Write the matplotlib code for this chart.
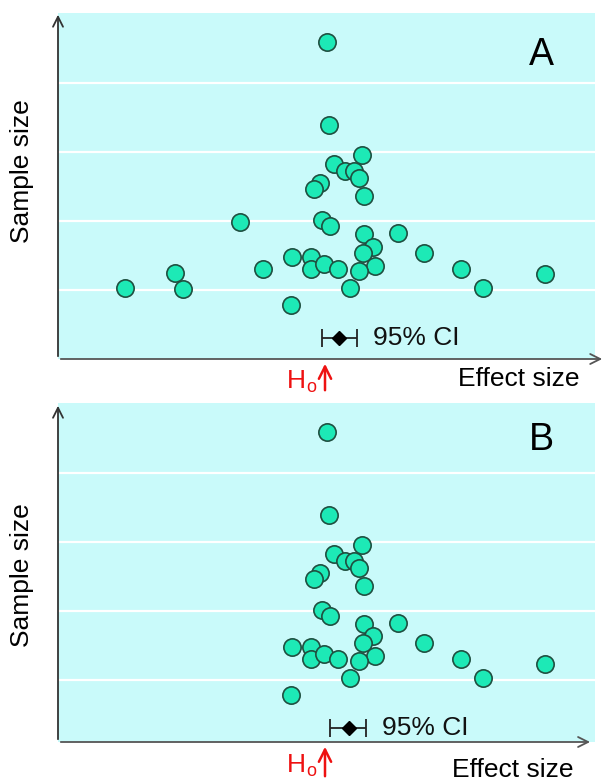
import numpy as np
import matplotlib
matplotlib.use('Agg')
import matplotlib.pyplot as plt

plt.rcParams['font.family'] = ['Liberation Sans', 'DejaVu Sans']

# effect size (H0 at 0) and sample size (grid units) for each study
effect = [0.03, 0.08, 0.73, 0.17, 0.40, 0.57, 0.68, -0.10, -0.23, 0.78,
          -1.70, -0.07, 0.09, 0.77, 1.45, 0.95, 0.75, -0.67, -0.29, 1.00,
          -1.25, -0.29, -0.03, 0.25, 0.67, 0.49, -0.68, -4.01, -3.00, -2.85,
          1.97, 2.71, 3.15, 4.40]
sample = [4.60, 3.39, 2.96, 2.82, 2.73, 2.73, 2.62, 2.55, 2.47, 2.36,
          1.98, 2.01, 1.93, 1.81, 1.83, 1.63, 1.53, 1.48, 1.48, 1.35,
          1.30, 1.30, 1.37, 1.30, 1.28, 1.03, 0.78, 1.03, 1.25, 1.01,
          1.54, 1.30, 1.03, 1.23]
# panel B: the small negative studies are missing
in_b = [e > -1.0 for e in effect]

panels = ['A', 'B']
ci_low = [-0.07, 0.10]
ci_mid = [0.27, 0.47]
ci_high = [0.63, 0.81]
ci_y = [0.30, 0.30]

W, H = 605, 783
fig = plt.figure(figsize=(W / 100, H / 100), dpi=100)

def px_rect(l, t, r, b):
    return [l / W, 1 - b / H, (r - l) / W, (b - t) / H]

def ftext(x, y, s, **kw):
    fig.text(x / W, 1 - y / H, s, **kw)

rects = [px_rect(58, 13, 595, 359), px_rect(58, 403, 595, 742)]
ylims = [(0, 5.014), (0.10, 5.014)]
xarrow_tip = [1.0186, 0.996]
yarrow_tip = [1.003, 1.0]
label_pos = [(0.90, 0.879), (0.901, 0.891)]
# pixel y of x-label centre, H0 baseline, arrow tail/head, ylabel centre
xlabel_y = [379, 770]
h0_y = [388, 772]
arrow_y = [(393, 361), (779, 744)]
ylabel_y = [171, 575]
xlabel_r = [579, 573]

bg = '#c9fafa'
fill = '#1de9b6'
edge = '#1f4f40'

for i, name in enumerate(panels):
    ax = fig.add_axes(rects[i])
    ax.set_facecolor(bg)
    ax.set_xlim(-5.34, 5.4)
    ax.set_ylim(*ylims[i])
    for s in ax.spines.values():
        s.set_visible(False)
    ax.set_xticks([])
    ax.set_yticks([])
    for g in [1, 2, 3, 4]:
        ax.axhline(g, color='white', lw=1.6, zorder=1)

    if i == 0:
        xs, ys = effect, sample
    else:
        xs = [e for e, k in zip(effect, in_b) if k]
        ys = [s for s, k in zip(sample, in_b) if k]
    ax.scatter(xs, ys, s=155, c=fill, edgecolors=edge, linewidths=1.2, zorder=3)

    mid = ci_mid[i]
    ax.errorbar([mid], [ci_y[i]], xerr=[[mid - ci_low[i]], [ci_high[i] - mid]],
                fmt='D', color='black', ecolor='#222222', ms=7, elinewidth=1.3,
                capsize=6.5, capthick=1.3, zorder=4)
    ax.annotate('95% CI', xy=(ci_high[i], ci_y[i]), xytext=(12, 0),
                textcoords='offset points', va='center', ha='left',
                fontsize=19, color='#111111')

    ax.text(*label_pos[i], name, transform=ax.transAxes, fontsize=27,
            ha='center', va='center', color='black')

    # axis arrows
    ax.annotate('', xy=(xarrow_tip[i], 0), xytext=(0, 0), xycoords='axes fraction',
                arrowprops=dict(arrowstyle='->', color='#555555', lw=1.3,
                                mutation_scale=18), annotation_clip=False)
    ax.annotate('', xy=(0, yarrow_tip[i]), xytext=(0, 0), xycoords='axes fraction',
                arrowprops=dict(arrowstyle='->', color='#333333', lw=1.3,
                                mutation_scale=18), annotation_clip=False)

    ftext(xlabel_r[i], xlabel_y[i], 'Effect size', fontsize=19, ha='right', va='center')
    ftext(22, ylabel_y[i], 'Sample size', fontsize=19, rotation=90,
          ha='center', va='center')
    ftext(287, h0_y[i], 'H', fontsize=19, color='#ee1111', ha='left', va='baseline')
    ftext(306, h0_y[i] + 4, 'o', fontsize=13, color='#ee1111', ha='left', va='baseline')
    t, h = arrow_y[i]
    fig.add_artist(matplotlib.patches.FancyArrowPatch(
        (325 / W, 1 - t / H), (325 / W, 1 - h / H), transform=fig.transFigure,
        arrowstyle='->', color='#ee1111', lw=1.8, mutation_scale=22))

fig.savefig('out.png', dpi=100)
